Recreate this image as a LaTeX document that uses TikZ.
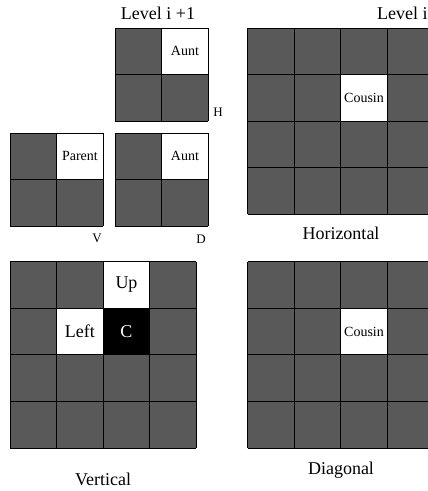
\documentclass[tikz,border=0pt]{standalone}
\usepackage{fontspec}
\setmainfont{Liberation Serif}
\definecolor{cellgray}{HTML}{595959}
\newcommand{\cs}{46.6}
\newcommand{\gridlines}[3]{%
  \foreach \k in {0,...,#3}{%
    \draw[gridline] ({#1+\k*\cs},#2) -- ++(0,{#3*\cs});
    \draw[gridline] (#1,{#2+\k*\cs}) -- ++({#3*\cs},0);
  }}
\newcommand{\darkblock}[3]{\fill[cellgray] (#1,#2) rectangle ++({#3*\cs},{#3*\cs});}
\newcommand{\cellfill}[5]{\fill[#5] ({#1+#3*\cs},{#2+#4*\cs}) rectangle ++(\cs,\cs);}
\begin{document}
\begin{tikzpicture}[x=1pt,y=-1pt,
  gridline/.style={draw=black,line width=1pt},
  small/.style={font=\fontsize{14}{16}\selectfont,inner sep=0pt},
  big/.style={font=\fontsize{18}{21}\selectfont,inner sep=0pt},
  tag/.style={font=\fontsize{13}{15}\selectfont,inner sep=0pt}]
\useasboundingbox (0,0) rectangle (428,491);
% H block
\darkblock{115}{28}{2}
\cellfill{115}{28}{1}{0}{white}
\gridlines{115}{28}{2}
% V block
\darkblock{10}{133}{2}
\cellfill{10}{133}{1}{0}{white}
\gridlines{10}{133}{2}
% D block
\darkblock{115}{133}{2}
\cellfill{115}{133}{1}{0}{white}
\gridlines{115}{133}{2}
% Horizontal
\darkblock{247.5}{28}{4}
\cellfill{247.5}{28}{2}{1}{white}
\gridlines{247.5}{28}{4}
% Vertical
\darkblock{10}{261.7}{4}
\cellfill{10}{261.7}{2}{0}{white}
\cellfill{10}{261.7}{1}{1}{white}
\cellfill{10}{261.7}{2}{1}{black}
\gridlines{10}{261.7}{4}
% Diagonal
\darkblock{247.5}{261.7}{4}
\cellfill{247.5}{261.7}{2}{1}{white}
\gridlines{247.5}{261.7}{4}
% cell texts
\node[small] (auntH) at (184.9,51.3) {Aunt};
\node[small] (parent) at (79.9,156.3) {Parent};
\node[small] (auntD) at (184.9,156.3) {Aunt};
\node[small] (cousinH) at (364,97.9) {Cousin};
\node[big] (up) at (126.5,285) {Up};
\node[big] (left) at (79.9,331.6) {Left};
\node[big,text=white] (c) at (126.5,331.6) {C};
\node[small] (cousinD) at (364,331.6) {Cousin};
% labels
\node[big] (lvl1) at (158,13) {Level i +1};
\node[big,anchor=west] (lvl0) at (377,13) {Level i};
\node[tag] (lh) at (218,112) {H};
\node[tag] (lv) at (97,238) {V};
\node[tag] (ld) at (201,239) {D};
\node[big] (horiz) at (341,233) {Horizontal};
\node[big] (vert) at (103,479) {Vertical};
\node[big] (diag) at (341,470) {Diagonal};
\end{tikzpicture}
\end{document}
